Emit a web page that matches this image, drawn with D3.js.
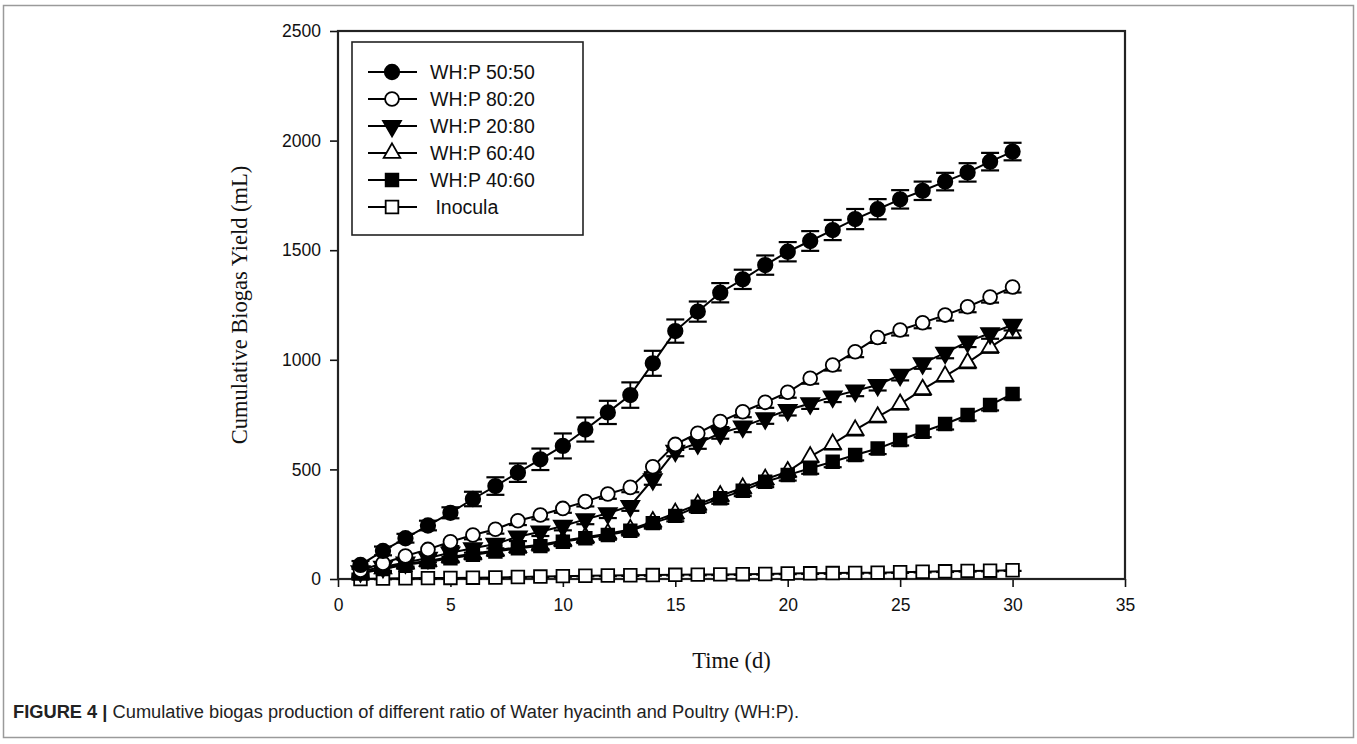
<!DOCTYPE html>
<html>
<head>
<meta charset="utf-8">
<script src="https://cdn.jsdelivr.net/npm/d3@7"></script>
<style>
  body { margin: 0; background: #fff; }
  .tick text { font-family: "Liberation Sans", Arial, sans-serif; font-size: 17.5px; fill: #111; }
  .axisTitle { font-family: "Liberation Serif", "Times New Roman", serif; font-size: 22.5px; fill: #111; }
</style>
</head>
<body>
<div id="chart"></div>
<script>
var svgWidth = 1357;
var svgHeight = 744;

// data
var days = d3.range(1, 31);
var seriesNames = ["WH:P 50:50", "WH:P 80:20", "WH:P 20:80", "WH:P 60:40", "WH:P 40:60", " Inocula"];

var wh5050 = [64, 128, 186, 244, 302, 365, 424, 485, 546, 607, 682, 760, 839, 984, 1131, 1220, 1306, 1367, 1432, 1493, 1542, 1592, 1642, 1687, 1732, 1771, 1813, 1855, 1904, 1950];
var err5050 = [18, 20, 20, 22, 25, 33, 40, 42, 49, 57, 55, 53, 58, 57, 53, 46, 44, 44, 44, 44, 45, 46, 46, 46, 42, 42, 40, 42, 40, 40];

var wh8020 = [40, 72, 105, 135, 170, 201, 227, 266, 292, 322, 353, 388, 418, 512, 614, 665, 718, 763, 806, 852, 916, 976, 1037, 1102, 1136, 1169, 1204, 1242, 1286, 1332];
var err8020 = [15, 18, 18, 20, 20, 20, 20, 20, 20, 20, 22, 22, 22, 25, 25, 25, 25, 25, 25, 25, 25, 25, 25, 25, 25, 25, 25, 25, 25, 25];

var wh2080 = [35, 55, 75, 96, 120, 140, 160, 193, 216, 242, 272, 300, 333, 455, 585, 619, 665, 695, 733, 771, 801, 832, 859, 885, 931, 984, 1032, 1083, 1121, 1159];
var err2080 = [15, 18, 18, 20, 20, 20, 20, 20, 20, 20, 22, 22, 22, 25, 25, 25, 25, 25, 25, 25, 25, 25, 25, 25, 25, 25, 25, 25, 25, 25];

var wh6040 = [28, 48, 70, 82, 100, 115, 130, 145, 156, 175, 191, 207, 226, 262, 300, 340, 380, 415, 455, 490, 558, 616, 680, 740, 798, 865, 926, 987, 1057, 1124];
var err6040 = [15, 18, 18, 20, 20, 20, 20, 20, 20, 20, 22, 22, 22, 25, 25, 25, 25, 25, 25, 25, 25, 25, 25, 25, 25, 25, 25, 25, 25, 25];

var wh4060 = [25, 45, 65, 78, 95, 110, 125, 140, 150, 170, 186, 201, 220, 255, 288, 330, 368, 403, 444, 474, 505, 535, 566, 595, 634, 672, 707, 748, 794, 844];
var err4060 = [15, 18, 18, 20, 20, 20, 20, 20, 20, 20, 22, 22, 22, 25, 25, 25, 25, 25, 25, 25, 25, 25, 25, 25, 25, 25, 25, 25, 25, 25];

var inocula = [0, 2, 3, 4, 5, 6, 7, 9, 11, 13, 15, 16, 17, 18, 19, 20, 21, 22, 23, 25, 26, 27, 28, 29, 31, 33, 35, 37, 38, 40];
var errInocula = [3, 3, 3, 3, 3, 3, 3, 3, 3, 3, 3, 3, 3, 3, 3, 3, 3, 3, 3, 3, 3, 3, 3, 3, 3, 3, 3, 3, 3, 3];

var xTicks = [0, 5, 10, 15, 20, 25, 30, 35];
var yTicks = [0, 500, 1000, 1500, 2000, 2500];

var series = [
  { name: seriesNames[0], values: wh5050, err: err5050, symbol: d3.symbolCircle, fill: "#000", size: 165, both: true },
  { name: seriesNames[1], values: wh8020, err: err8020, symbol: d3.symbolCircle, fill: "#fff", size: 150, both: false },
  { name: seriesNames[2], values: wh2080, err: err2080, symbol: "down", fill: "#000", size: 140, both: false },
  { name: seriesNames[3], values: wh6040, err: err6040, symbol: d3.symbolTriangle, fill: "#fff", size: 120, both: false },
  { name: seriesNames[4], values: wh4060, err: err4060, symbol: d3.symbolSquare, fill: "#000", size: 160, both: false },
  { name: seriesNames[5], values: inocula, err: errInocula, symbol: d3.symbolSquare, fill: "#fff", size: 160, both: false }
];

// back to front: inocula, 60:40, 40:60, 20:80, 80:20, 50:50
var drawOrder = [5, 3, 4, 2, 1, 0];

var margin = { top: 31, right: 232, bottom: 165, left: 338 };
var width = svgWidth - margin.left - margin.right;
var height = svgHeight - margin.top - margin.bottom;

var svg = d3.select("#chart")
  .append("svg")
  .attr("width", svgWidth)
  .attr("height", svgHeight);

// outer figure frame
svg.append("rect")
  .attr("x", 3.5)
  .attr("y", 5.5)
  .attr("width", 1350)
  .attr("height", 732)
  .attr("fill", "none")
  .attr("stroke", "#9a9a9a")
  .attr("stroke-width", 1.5);

var chartGroup = svg.append("g")
  .attr("transform", `translate(${margin.left}, ${margin.top})`);

var xScale = d3.scaleLinear().domain([0, 35]).range([0, width]);
var yScale = d3.scaleLinear().domain([0, 2500]).range([height, 0]);

var xAxis = d3.axisBottom(xScale).tickValues(xTicks).tickSize(8).tickPadding(12).tickFormat(d3.format("d"));
var yAxis = d3.axisLeft(yScale).tickValues(yTicks).tickSize(8).tickPadding(9).tickFormat(d3.format("d"));

chartGroup.append("g")
  .attr("transform", `translate(0, ${height})`)
  .call(xAxis)
  .call(g => g.select(".domain").remove());

chartGroup.append("g")
  .call(yAxis)
  .call(g => g.select(".domain").remove());

chartGroup.selectAll(".tick line").attr("stroke", "#111").attr("stroke-width", 1.6);

// plot frame
chartGroup.append("rect")
  .attr("width", width)
  .attr("height", height)
  .attr("fill", "none")
  .attr("stroke", "#222")
  .attr("stroke-width", 2.2);

function symbolPath(s) {
  if (s.symbol === "down") {
    return d3.symbol(d3.symbolTriangle, s.size)();
  }
  return d3.symbol(s.symbol, s.size)();
}

var line = d3.line()
  .x(d => xScale(d.day))
  .y(d => yScale(d.value));

drawOrder.forEach(k => {
  var s = series[k];
  var pts = days.map((d, i) => ({ day: d, value: s.values[i], err: s.err[i] }));
  var g = chartGroup.append("g");

  g.append("path")
    .datum(pts)
    .attr("d", line)
    .attr("fill", "none")
    .attr("stroke", "#000")
    .attr("stroke-width", 2);

  var eb = g.selectAll(".err").data(pts).enter().append("g");
  eb.append("line")
    .attr("x1", d => xScale(d.day))
    .attr("x2", d => xScale(d.day))
    .attr("y1", d => yScale(s.both ? d.value + d.err : d.value))
    .attr("y2", d => yScale(d.value - d.err))
    .attr("stroke", "#000")
    .attr("stroke-width", 1.8);
  eb.append("line")
    .attr("x1", d => xScale(d.day) - 9)
    .attr("x2", d => xScale(d.day) + 9)
    .attr("y1", d => yScale(d.value - d.err))
    .attr("y2", d => yScale(d.value - d.err))
    .attr("stroke", "#000")
    .attr("stroke-width", 2.2);
  if (s.both) {
    eb.append("line")
      .attr("x1", d => xScale(d.day) - 9)
      .attr("x2", d => xScale(d.day) + 9)
      .attr("y1", d => yScale(d.value + d.err))
      .attr("y2", d => yScale(d.value + d.err))
      .attr("stroke", "#000")
      .attr("stroke-width", 2.2);
  }

  g.selectAll(".mark").data(pts).enter().append("path")
    .attr("d", symbolPath(s))
    .attr("transform", d => `translate(${xScale(d.day)}, ${yScale(d.value)})` + (s.symbol === "down" ? " rotate(180)" : ""))
    .attr("fill", s.fill)
    .attr("stroke", "#000")
    .attr("stroke-width", 1.8);
});

// legend
var legend = svg.append("g").attr("transform", "translate(352, 42)");
legend.append("rect")
  .attr("width", 231)
  .attr("height", 193)
  .attr("fill", "#fff")
  .attr("stroke", "#222")
  .attr("stroke-width", 1.6);

series.forEach((s, i) => {
  var row = legend.append("g").attr("transform", `translate(0, ${30 + i * 27})`);
  row.append("line")
    .attr("x1", 16).attr("x2", 65)
    .attr("stroke", "#000").attr("stroke-width", 2);
  row.append("path")
    .attr("d", symbolPath(s))
    .attr("transform", "translate(40, 0)" + (s.symbol === "down" ? " rotate(180)" : ""))
    .attr("fill", s.fill)
    .attr("stroke", "#000")
    .attr("stroke-width", 1.8);
  row.append("text")
    .attr("x", 78)
    .attr("y", 7)
    .attr("font-family", "Liberation Sans, Arial, sans-serif")
    .attr("font-size", 19.5)
    .attr("fill", "#111")
    .attr("xml:space", "preserve")
    .text(s.name);
});

// axis titles
svg.append("text")
  .attr("class", "axisTitle")
  .attr("transform", `translate(${margin.left + width / 2}, 668)`)
  .attr("text-anchor", "middle")
  .text("Time (d)");

svg.append("text")
  .attr("class", "axisTitle")
  .attr("transform", `translate(247, ${margin.top + height / 2}) rotate(-90)`)
  .attr("text-anchor", "middle")
  .text("Cumulative Biogas Yield (mL)");

// caption
var caption = svg.append("text")
  .attr("x", 13)
  .attr("y", 718)
  .attr("font-family", "Liberation Sans, Arial, sans-serif")
  .attr("font-size", 18)
  .attr("fill", "#222")
  .attr("textLength", 786)
  .attr("lengthAdjust", "spacingAndGlyphs");
caption.append("tspan").attr("font-weight", "bold").text("FIGURE 4 | ");
caption.append("tspan").text("Cumulative biogas production of different ratio of Water hyacinth and Poultry (WH:P).");
</script>
</body>
</html>
